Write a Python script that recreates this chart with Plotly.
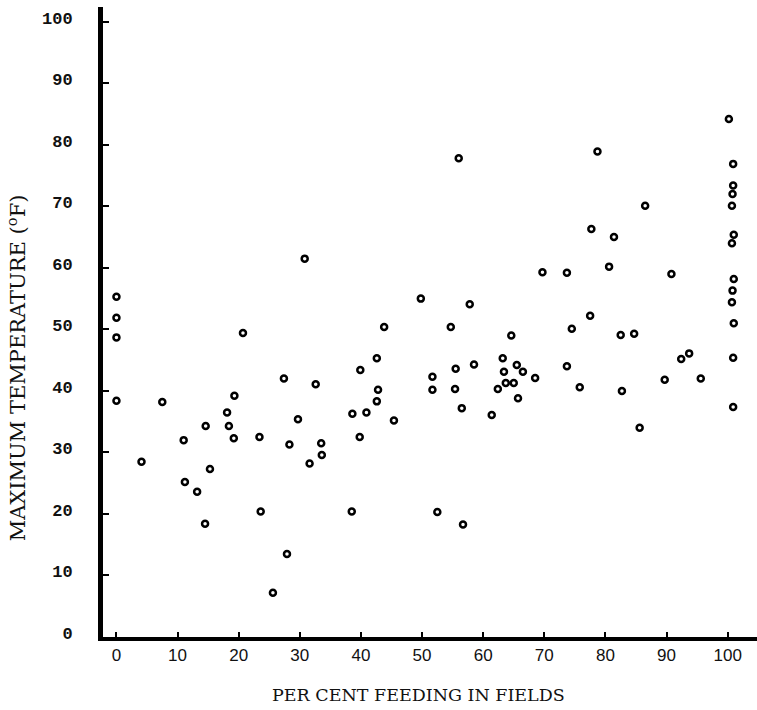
import plotly.graph_objects as go

# Per cent feeding in fields (x) and maximum temperature in °F (y)
feeding_pct = [
    0, 0, 0, 0,
    4.1, 7.5, 11.0, 11.2, 13.2, 14.6, 14.5, 15.3, 18.1, 18.4, 19.3, 19.2, 20.7,
    23.4, 23.6, 25.6, 27.4, 27.9, 28.3, 29.7, 30.8, 31.6, 32.6, 33.5, 33.6,
    38.6, 38.5, 39.8, 39.9, 40.9, 42.6, 42.8, 42.6, 43.8, 45.4,
    49.8, 51.7, 51.7, 52.5, 54.7, 55.5, 55.4, 56.0, 56.5, 56.7, 57.8, 58.5,
    61.4, 62.4, 63.2, 63.4, 63.7, 64.6, 65.0, 65.5, 65.7, 66.5, 68.5, 69.7,
    73.7, 73.7, 74.5, 75.8, 77.5, 77.7, 78.7, 80.6, 81.4, 82.5, 82.7, 84.7,
    85.6, 86.5, 89.7, 90.8, 92.4, 93.7, 95.6,
    100.2, 100.9, 100.9, 100.8, 100.7, 101.0, 100.7, 101.0, 100.8, 100.7, 101.0, 100.9, 100.9,
]
max_temp_f = [
    55.3, 51.9, 48.7, 38.4,
    28.5, 38.2, 32.0, 25.2, 23.6, 34.3, 18.4, 27.3, 36.5, 34.3, 39.2, 32.3, 49.4,
    32.5, 20.4, 7.2, 42.0, 13.5, 31.3, 35.4, 61.5, 28.2, 41.1, 31.5, 29.6,
    36.3, 20.4, 32.5, 43.4, 36.5, 45.3, 40.2, 38.3, 50.4, 35.2,
    55.0, 42.3, 40.2, 20.3, 50.4, 43.6, 40.3, 77.8, 37.2, 18.3, 54.1, 44.3,
    36.1, 40.3, 45.3, 43.1, 41.3, 49.0, 41.3, 44.2, 38.8, 43.1, 42.1, 59.3,
    59.2, 44.0, 50.1, 40.6, 52.2, 66.3, 78.9, 60.2, 65.0, 49.1, 40.0, 49.3,
    34.0, 70.1, 41.8, 59.0, 45.2, 46.1, 42.0,
    84.2, 76.9, 73.4, 72.0, 70.1, 65.4, 64.0, 58.2, 56.3, 54.4, 51.0, 45.4, 37.4,
]

x_ticks = [0, 10, 20, 30, 40, 50, 60, 70, 80, 90, 100]
y_ticks = [0, 10, 20, 30, 40, 50, 60, 70, 80, 90, 100]
x_title = "PER CENT FEEDING IN FIELDS"
y_title = "MAXIMUM TEMPERATURE (<sup>o</sup>F)"

fig = go.Figure()
fig.add_trace(go.Scatter(
    x=feeding_pct, y=max_temp_f, mode="markers",
    marker=dict(symbol="circle-open", size=6, color="black",
                line=dict(width=2.5, color="black")),
    showlegend=False, hoverinfo="skip",
))

fig.update_layout(
    width=757, height=710,
    margin=dict(l=103, r=0, t=7, b=73),
    paper_bgcolor="white", plot_bgcolor="white",
    xaxis=dict(
        range=[-2.2, 104.8], tickmode="array", tickvals=x_ticks,
        ticktext=[str(v) for v in x_ticks],
        showgrid=False, zeroline=False,
        showline=True, linecolor="black", linewidth=4,
        ticks="inside", ticklen=5, tickwidth=2, tickcolor="black",
        tickfont=dict(family="Liberation Sans", size=17, color="#111"),
    ),
    yaxis=dict(
        range=[0, 102.4], tickmode="array", tickvals=y_ticks,
        ticktext=[str(v) for v in y_ticks],
        showgrid=False, zeroline=False,
        showline=True, linecolor="black", linewidth=5,
        ticks="inside", ticklen=6, tickwidth=2, tickcolor="black",
        ticklabelstandoff=22, ticklabelshift=-4,
        tickfont=dict(family="Liberation Mono", size=17, color="#111", weight="bold"),
    ),
    annotations=[
        dict(text=x_title, xref="paper", yref="paper", x=0.4817, y=-0.092,
             showarrow=False, xanchor="center", yanchor="middle",
             font=dict(family="DejaVu Serif", size=17.5, color="#111")),
        dict(text=y_title, xref="paper", yref="paper", x=-0.1315, y=0.428,
             showarrow=False, xanchor="center", yanchor="middle", textangle=-90,
             font=dict(family="DejaVu Serif", size=21, color="#111")),
    ],
)

fig.write_html("out.html")
